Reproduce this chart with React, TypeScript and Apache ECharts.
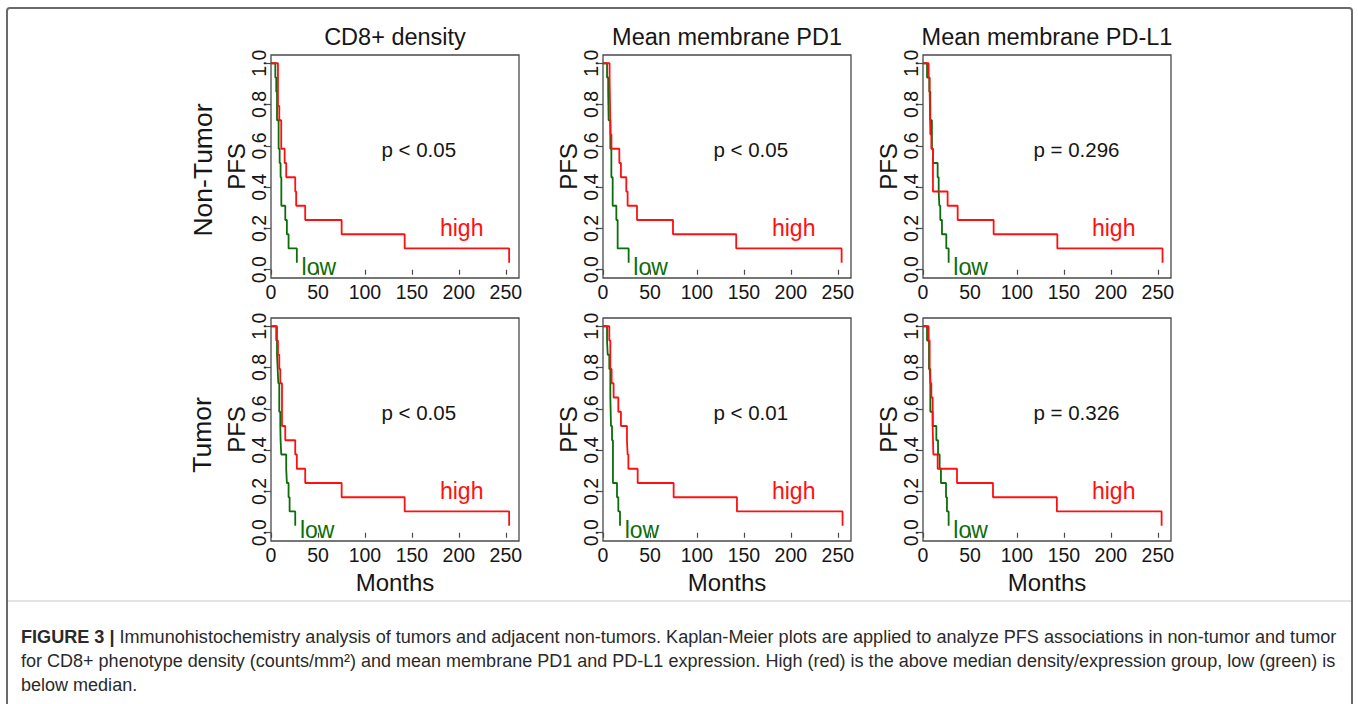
import React, { useEffect, useRef } from 'react';
import * as echarts from 'echarts';

const colTitles = ['CD8+ density', 'Mean membrane PD1', 'Mean membrane PD-L1'];
const rowLabels = ['Non-Tumor', 'Tumor'];
const pLabels = [
  ['p < 0.05', 'p < 0.05', 'p = 0.296'],
  ['p < 0.05', 'p < 0.01', 'p = 0.326'],
];
const xTicks = [0, 50, 100, 150, 200, 250];
const yTicks = [0, 0.2, 0.4, 0.6, 0.8, 1.0];
const xAxisName = 'Months';
const yAxisName = 'PFS';
const highLabel = 'high';
const lowLabel = 'low';

// Kaplan-Meier step points: [months, PFS]
const nonTumorCD8High = [[0, 1], [7.4, 0.793], [8.8, 0.724], [10.9, 0.586], [14.5, 0.517], [16.2, 0.448], [25.8, 0.379], [26.8, 0.31], [36.4, 0.241], [75.2, 0.172], [142.3, 0.103], [253.5, 0.034]];
const nonTumorCD8Low = [[0, 1], [4.6, 0.931], [5.6, 0.862], [6.4, 0.724], [8.1, 0.586], [9.2, 0.517], [10.2, 0.448], [11.0, 0.31], [15.2, 0.241], [16.9, 0.172], [18.7, 0.103], [27.5, 0.034]];
const nonTumorPD1High = [[0, 1], [7.0, 0.931], [7.5, 0.793], [8.0, 0.655], [9.0, 0.586], [17.4, 0.517], [19.1, 0.448], [24.8, 0.379], [26.2, 0.31], [36.2, 0.241], [74.5, 0.172], [141.8, 0.103], [254, 0.034]];
const nonTumorPD1Low = [[0, 1], [4.3, 0.931], [5.5, 0.862], [6.0, 0.724], [7.8, 0.586], [8.9, 0.448], [10.3, 0.31], [14.2, 0.241], [15.6, 0.103], [27.3, 0.034]];
const nonTumorPDL1High = [[0, 1], [6.0, 0.931], [7.1, 0.862], [7.8, 0.655], [8.9, 0.586], [10.6, 0.379], [26.2, 0.31], [36.9, 0.241], [75.2, 0.172], [143, 0.103], [255, 0.034]];
const nonTumorPDL1Low = [[0, 1], [4.3, 0.931], [6.7, 0.862], [7.8, 0.724], [9.5, 0.586], [10.6, 0.517], [15.6, 0.448], [16.7, 0.379], [17.4, 0.31], [18.4, 0.241], [20.2, 0.172], [24.8, 0.103], [27.3, 0.034]];
const tumorCD8High = [[0, 1], [6.4, 0.931], [7.4, 0.862], [8.8, 0.793], [9.9, 0.724], [11.7, 0.517], [15.2, 0.448], [25.8, 0.379], [27.5, 0.31], [36.4, 0.241], [75.2, 0.172], [142.3, 0.103], [253.5, 0.034]];
const tumorCD8Low = [[0, 1], [5.6, 0.931], [6.4, 0.862], [7.1, 0.793], [7.8, 0.724], [8.8, 0.586], [9.9, 0.517], [10.2, 0.448], [10.9, 0.379], [16.2, 0.31], [16.9, 0.241], [18.7, 0.172], [19.8, 0.103], [25.8, 0.034]];
const tumorPD1High = [[0, 1], [6.7, 0.931], [7.8, 0.793], [9.2, 0.724], [11.3, 0.655], [16.3, 0.586], [19.1, 0.517], [25.5, 0.448], [26.2, 0.379], [27.0, 0.31], [36.9, 0.241], [75.2, 0.172], [142.6, 0.103], [255, 0.034]];
const tumorPD1Low = [[0, 1], [4.3, 0.931], [5.0, 0.862], [6.7, 0.793], [7.8, 0.655], [8.5, 0.517], [9.6, 0.448], [10.6, 0.241], [14.9, 0.172], [16.3, 0.103], [18.1, 0.034]];
const tumorPDL1High = [[0, 1], [6.0, 0.931], [7.1, 0.793], [7.8, 0.724], [8.9, 0.655], [10.3, 0.517], [11.0, 0.379], [15.6, 0.31], [36.2, 0.241], [74.5, 0.172], [142.5, 0.103], [254, 0.034]];
const tumorPDL1Low = [[0, 1], [4.3, 0.931], [6.4, 0.793], [7.8, 0.586], [10.3, 0.517], [14.2, 0.448], [16.0, 0.379], [17.7, 0.31], [19.1, 0.241], [24.5, 0.172], [25.5, 0.103], [27.3, 0.034]];

const highCurves = [
  [nonTumorCD8High, nonTumorPD1High, nonTumorPDL1High],
  [tumorCD8High, tumorPD1High, tumorPDL1High],
];
const lowCurves = [
  [nonTumorCD8Low, nonTumorPD1Low, nonTumorPDL1Low],
  [tumorCD8Low, tumorPD1Low, tumorPDL1Low],
];

const captionBold = 'FIGURE 3 |';
const captionLine1 = ' Immunohistochemistry analysis of tumors and adjacent non-tumors. Kaplan-Meier plots are applied to analyze PFS associations in non-tumor and tumor';
const captionLine2 = 'for CD8+ phenotype density (counts/mm²) and mean membrane PD1 and PD-L1 expression. High (red) is the above median density/expression group, low (green) is';
const captionLine3 = 'below median.';

// layout
const X_MAX = 264;
const Y_MIN = -0.04;
const Y_MAX = 1.04;
const colLeft = [271, 603, 923];
const rowTop = [55, 318];
const PW = 248;
const PH = 223;
const RED = '#ff1010';
const GREEN = '#0b6e0b';
const TXT = '#161616';

function hasFont(name: string) {
  const c = document.createElement('canvas').getContext('2d')!;
  const s = 'mmmmmlliiWW0123456789';
  c.font = '40px monospace';
  const a = c.measureText(s).width;
  c.font = `40px "${name}", monospace`;
  const b = c.measureText(s).width;
  return Math.abs(a - b) > 0.5;
}
function measure(text: string, font: string) {
  const c = document.createElement('canvas').getContext('2d')!;
  c.font = font;
  return c.measureText(text).width;
}

export default function App() {
  const ref = useRef<HTMLDivElement>(null);
  useEffect(() => {
    if (!ref.current) return;
    const chart = echarts.init(ref.current, undefined, { renderer: 'svg' });
    const narrow = hasFont('Liberation Sans Narrow');
    const tickFont = narrow ? '"Liberation Sans Narrow", "Liberation Sans", Arial, sans-serif' : '"Liberation Sans", Arial, sans-serif';
    const tickSize = narrow ? 20 : 19.5;
    const base = '"Liberation Sans", Arial, sans-serif';

    const grid: any[] = [];
    const xAxis: any[] = [];
    const yAxis: any[] = [];
    const series: any[] = [];
    const graphic: any[] = [];

    const px = (c: number, r: number, m: number, s: number) => [
      colLeft[c] + (m / X_MAX) * PW,
      rowTop[r] + ((Y_MAX - s) / (Y_MAX - Y_MIN)) * PH,
    ];

    for (let r = 0; r < 2; r++) {
      for (let c = 0; c < 3; c++) {
        const idx = r * 3 + c;
        grid.push({
          left: colLeft[c], top: rowTop[r], width: PW, height: PH,
          show: true, borderColor: '#4a4a4a', borderWidth: 1.3, backgroundColor: 'transparent',
        });
        xAxis.push({
          gridIndex: idx, type: 'value', min: 0, max: X_MAX,
          axisLine: { show: false },
          splitLine: { show: false },
          axisTick: { show: true, inside: false, length: 5, customValues: xTicks, lineStyle: { color: '#4a4a4a', width: 1.2 } },
          axisLabel: { customValues: xTicks, fontSize: tickSize, fontFamily: tickFont, color: TXT, margin: 4 },
          name: r === 1 ? xAxisName : '',
          nameLocation: 'middle', nameGap: 29,
          nameTextStyle: { fontSize: 24, fontFamily: base, color: TXT },
        });
        yAxis.push({
          gridIndex: idx, type: 'value', min: Y_MIN, max: Y_MAX,
          axisLine: { show: false },
          splitLine: { show: false },
          axisTick: { show: true, inside: false, length: 5, customValues: yTicks, lineStyle: { color: '#4a4a4a', width: 1.2 } },
          axisLabel: {
            customValues: yTicks, rotate: 90, fontSize: tickSize, fontFamily: tickFont, color: TXT, margin: 2,
            formatter: (v: number) => v.toFixed(1),
          },
          name: yAxisName, nameLocation: 'middle', nameRotate: 90, nameGap: 22,
          nameTextStyle: { fontSize: 24, fontFamily: base, color: TXT },
        });
        series.push({
          type: 'line', xAxisIndex: idx, yAxisIndex: idx, data: lowCurves[r][c], step: 'end',
          showSymbol: false, symbol: 'none', lineStyle: { color: GREEN, width: 1.8 }, z: 2, silent: true,
        });
        series.push({
          type: 'line', xAxisIndex: idx, yAxisIndex: idx, data: highCurves[r][c], step: 'end',
          showSymbol: false, symbol: 'none', lineStyle: { color: RED, width: 1.8 }, z: 3, silent: true,
        });
        // annotations
        const pp = px(c, r, 117.5, 0.58);
        graphic.push({ type: 'text', x: pp[0], y: pp[1], style: { text: pLabels[r][c], fontSize: 20.5, fontFamily: base, fill: TXT, textAlign: 'left', align: 'left', textVerticalAlign: 'middle', verticalAlign: 'middle' } });
        const hp = px(c, r, 203, 0.2);
        graphic.push({ type: 'text', x: hp[0], y: hp[1], style: { text: highLabel, fontSize: 23, fontFamily: base, fill: RED, textAlign: 'center', align: 'center', textVerticalAlign: 'middle', verticalAlign: 'middle' } });
        const lc = lowCurves[r][c];
        const lp = px(c, r, lc[lc.length - 1][0] + 5, 0.012);
        graphic.push({ type: 'text', x: lp[0], y: lp[1], style: { text: lowLabel, fontSize: 23, fontFamily: base, fill: GREEN, textAlign: 'left', align: 'left', textVerticalAlign: 'middle', verticalAlign: 'middle' } });
      }
    }

    // column titles
    for (let c = 0; c < 3; c++) {
      graphic.push({ type: 'text', x: colLeft[c] + PW / 2, y: 37, style: { text: colTitles[c], fontSize: 23.5, fontFamily: base, fill: TXT, textAlign: 'center', align: 'center', textVerticalAlign: 'middle', verticalAlign: 'middle' } });
    }
    // row labels
    const rowCenters = [[203, 170], [202, 435]];
    for (let r = 0; r < 2; r++) {
      graphic.push({ type: 'text', x: rowCenters[r][0], y: rowCenters[r][1], rotation: Math.PI / 2, style: { text: rowLabels[r], fontSize: 26.5, fontFamily: base, fill: TXT, textAlign: 'center', align: 'center', textVerticalAlign: 'middle', verticalAlign: 'middle' } });
    }

    // frame and separator
    graphic.push({ type: 'rect', shape: { x: 7, y: 8, width: 1345, height: 720, r: 3 }, style: { fill: 'none', stroke: '#6a6a6a', lineWidth: 2 }, z: -1 });
    graphic.push({ type: 'line', shape: { x1: 8, y1: 601, x2: 1351, y2: 601 }, style: { stroke: '#c8c8c8', lineWidth: 1 } });

    // caption
    const capW = 1316;
    const w1 = measure(captionBold, `bold 100px ${base}`) + measure(captionLine1, `100px ${base}`);
    const f1 = (100 * capW) / w1;
    const w2 = measure(captionLine2, `100px ${base}`);
    const f2 = (100 * capW) / w2;
    const capColor = '#2a2a2a';
    graphic.push({
      type: 'text', x: 21, y: 637,
      style: {
        text: `{b|${captionBold}}{n|${captionLine1}}`,
        rich: {
          b: { fontSize: f1, fontFamily: base, fontWeight: 'bold', fill: capColor, color: capColor },
          n: { fontSize: f1, fontFamily: base, fill: capColor, color: capColor },
        },
        fontSize: f1, fontFamily: base, fill: capColor, textAlign: 'left', align: 'left', textVerticalAlign: 'middle', verticalAlign: 'middle',
      },
    });
    graphic.push({ type: 'text', x: 21, y: 661, style: { text: captionLine2, fontSize: f2, fontFamily: base, fill: capColor, textAlign: 'left', align: 'left', textVerticalAlign: 'middle', verticalAlign: 'middle' } });
    graphic.push({ type: 'text', x: 21, y: 685, style: { text: captionLine3, fontSize: f2, fontFamily: base, fill: capColor, textAlign: 'left', align: 'left', textVerticalAlign: 'middle', verticalAlign: 'middle' } });

    chart.setOption({
      animation: false,
      backgroundColor: '#ffffff',
      grid, xAxis, yAxis, series, graphic,
    });
    return () => chart.dispose();
  }, []);
  return <div ref={ref} style={{ position: 'absolute', left: 0, top: 0, width: 1358, height: 704, background: '#fff' }} />;
}
